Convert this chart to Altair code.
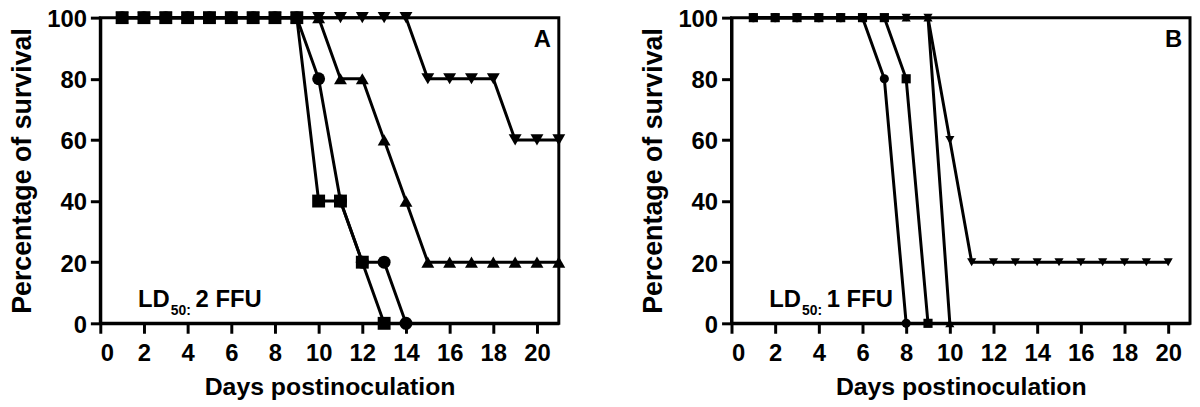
import altair as alt
import pandas as pd

# ---------------- data ----------------
days_a = list(range(1, 22))
sq_a = [100]*9 + [40, 40, 20, 0]
ci_a = [100]*9 + [80, 40, 20, 20, 0]
tu_a = [100]*10 + [80, 80, 60, 40] + [20]*7
td_a = [100]*14 + [80, 80, 80, 80, 60, 60, 60]

days_b = list(range(1, 21))
sq_b = [100]*7 + [80, 0]
ci_b = [100]*6 + [80, 0]
tu_b = [100]*9 + [0]
td_b = [100]*9 + [60] + [20]*10

series_names = ["triangle-down", "triangle-up", "circle", "square"]
x_ticks = list(range(0, 21, 2))
y_ticks = [0, 20, 40, 60, 80, 100]
panel_labels = ["A", "B"]
ld_main = ["LD", "LD"]
ld_sub = ["50:", "50:"]
ld_value = ["2 FFU", "1 FFU"]

FONT = "Liberation Sans"


def long_df(days, data):
    rows = []
    for name, vals in data.items():
        for d, v in zip(days, vals):
            rows.append({"day": d, "pct": v, "series": name})
    return pd.DataFrame(rows)


df_a = long_df(days_a, {"triangle-down": td_a, "triangle-up": tu_a,
                        "circle": ci_a, "square": sq_a})
df_b = long_df(days_b, {"triangle-down": td_b, "triangle-up": tu_b,
                        "circle": ci_b, "square": sq_b})

W, H = 462, 308


def panel(df, idx, msize):
    xenc = alt.X("day:Q", scale=alt.Scale(domain=[0, 21], nice=False),
                 axis=alt.Axis(values=x_ticks, title="Days postinoculation",
                               labelPadding=8, titlePadding=10))
    yenc = alt.Y("pct:Q", scale=alt.Scale(domain=[0, 100], nice=False),
                 axis=alt.Axis(values=y_ticks, title="Percentage of survival",
                               labelOffset=2, titlePadding=10))
    layers = []
    for name in series_names:
        sub = df[df["series"] == name]
        base = alt.Chart(sub)
        layers.append(base.mark_line(color="black", strokeWidth=3, clip=False)
                      .encode(x=xenc, y=yenc))
        layers.append(base.mark_point(shape=name, filled=True, color="black",
                                      opacity=1, size=msize, clip=False)
                      .encode(x=xenc, y=yenc))
    txt = alt.Chart(pd.DataFrame({"t": [0]}))
    layers.append(txt.mark_text(text=ld_main[idx], font=FONT, fontWeight="bold",
                                fontSize=24, align="left", baseline="alphabetic")
                  .encode(x=alt.value(38), y=alt.value(292)))
    layers.append(txt.mark_text(text=ld_sub[idx], font=FONT, fontWeight="bold",
                                fontSize=14, align="left", baseline="alphabetic")
                  .encode(x=alt.value(38 + 33), y=alt.value(300)))
    layers.append(txt.mark_text(text=ld_value[idx], font=FONT, fontWeight="bold",
                                fontSize=24, align="left", baseline="alphabetic")
                  .encode(x=alt.value(38 + 58), y=alt.value(292)))
    layers.append(txt.mark_text(text=panel_labels[idx], font=FONT, fontWeight="bold",
                                fontSize=24, align="right", baseline="alphabetic")
                  .encode(x=alt.value(W - 8), y=alt.value(30)))
    return alt.layer(*layers).properties(width=W, height=H)


chart = alt.hconcat(panel(df_a, 0, 169), panel(df_b, 1, 85), spacing=72).properties(
    autosize=alt.AutoSizeParams(type="none"),
    padding={"left": 93, "top": 7, "right": 1100, "bottom": 400}
).configure_view(
    stroke="black", strokeWidth=3
).configure_axis(
    labelFont=FONT, titleFont=FONT, labelFontWeight="bold", titleFontWeight="bold",
    labelFontSize=24, labelColor="black", titleColor="black",
    domainColor="black", domainWidth=3, tickColor="black", tickWidth=3,
    tickSize=10, labelPadding=4, grid=False
).configure_axisY(
    titleFontSize=27
).configure_axisX(
    titleFontSize=25
)

chart.save("out.html", embed_options={"renderer": "svg", "actions": False})
